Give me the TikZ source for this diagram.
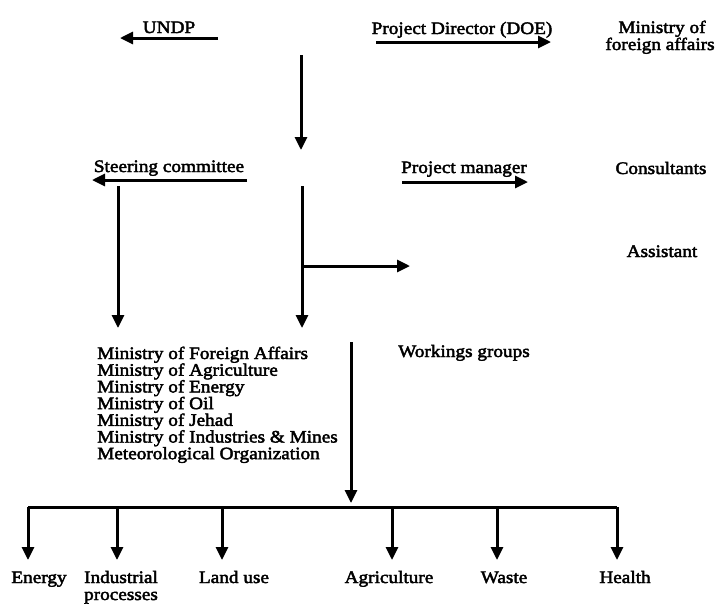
\documentclass[tikz,border=0pt]{standalone}
\usepackage{fontspec}
\setmainfont[FakeStretch=1.1,FakeBold=2.5]{Liberation Serif}
\usetikzlibrary{arrows.meta}
\begin{document}
\begin{tikzpicture}[x=1pt,y=-1pt,
  lbl/.style={inner sep=0pt,anchor=base,font=\fontsize{17.5}{17}\selectfont},
  lbll/.style={inner sep=0pt,anchor=base west,font=\fontsize{17.5}{17}\selectfont},
  conn/.style={line width=3pt,-{Triangle[length=13pt,width=12pt]}},
  bar/.style={line width=3pt}]
\useasboundingbox (0,0) rectangle (721,606);
% top row
\node[lbl] (undp) at (169,33) {UNDP};
\node[lbl] (pd) at (462,34) {Project Director (DOE)};
\node[lbl] (mofa1) at (662,33) {Ministry of};
\node[lbl] (mofa2) at (660,50) {foreign affairs};
\coordinate (u1) at (218,38); \coordinate (u2) at (120,38);
\coordinate (p1) at (376,42); \coordinate (p2) at (551,42);
\draw[conn] (u1) -- (u2);
\draw[conn] (p1) -- (p2);
\coordinate (t1) at (301,55); \coordinate (t2) at (301,150);
\draw[conn] (t1) -- (t2);
% second row
\node[lbl] (sc) at (169,172) {Steering committee};
\node[lbl] (pm) at (464,173) {Project manager};
\node[lbl] (cons) at (661,174) {Consultants};
\coordinate (s1) at (247,180); \coordinate (s2) at (92,180);
\coordinate (m1) at (402,182); \coordinate (m2) at (528,182);
\draw[conn] (s1) -- (s2);
\draw[conn] (m1) -- (m2);
% verticals
\coordinate (l1) at (118,186); \coordinate (l2) at (118,328);
\coordinate (c1) at (302,186); \coordinate (c2) at (302,328);
\coordinate (b1) at (302,266); \coordinate (b2) at (410,266);
\draw[conn] (l1) -- (l2);
\draw[conn] (c1) -- (c2);
\draw[conn] (b1) -- (b2);
\node[lbl] (asst) at (662,257) {Assistant};
% ministries list
\node[lbll] (mn1) at (97,359) {Ministry of Foreign Affairs};
\node[lbll] (mn2) at (97,375.7) {Ministry of Agriculture};
\node[lbll] (mn3) at (97,392.4) {Ministry of Energy};
\node[lbll] (mn4) at (97,409.1) {Ministry of Oil};
\node[lbll] (mn5) at (97,425.8) {Ministry of Jehad};
\node[lbll] (mn6) at (97,442.5) {Ministry of Industries \& Mines};
\node[lbll] (mn7) at (97,459.2) {Meteorological Organization};
\node[lbl] (wg) at (464,357) {Workings groups};
\coordinate (w1) at (351,342); \coordinate (w2) at (351,503);
\draw[conn] (w1) -- (w2);
% bottom bar
\coordinate (h1) at (28,507); \coordinate (h2) at (617,507);
\draw[bar] (h1) -- (h2);
% bottom labels
\node[lbl] (energy) at (39,583) {Energy};
\node[lbl] (ind1) at (121,583) {Industrial};
\node[lbl] (ind2) at (121,600) {processes};
\node[lbl] (land) at (234,583) {Land use};
\node[lbl] (agri) at (389,583) {Agriculture};
\node[lbl] (waste) at (504,583) {Waste};
\node[lbl] (health) at (625,583) {Health};
\foreach \n/\x in {e/28,i/117,l/222,a/392,w/497,h/617}{
  \coordinate (d\n1) at (\x,507); \coordinate (d\n2) at (\x,560);
  \draw[conn] (d\n1) -- (d\n2);
}
\end{tikzpicture}
\end{document}
